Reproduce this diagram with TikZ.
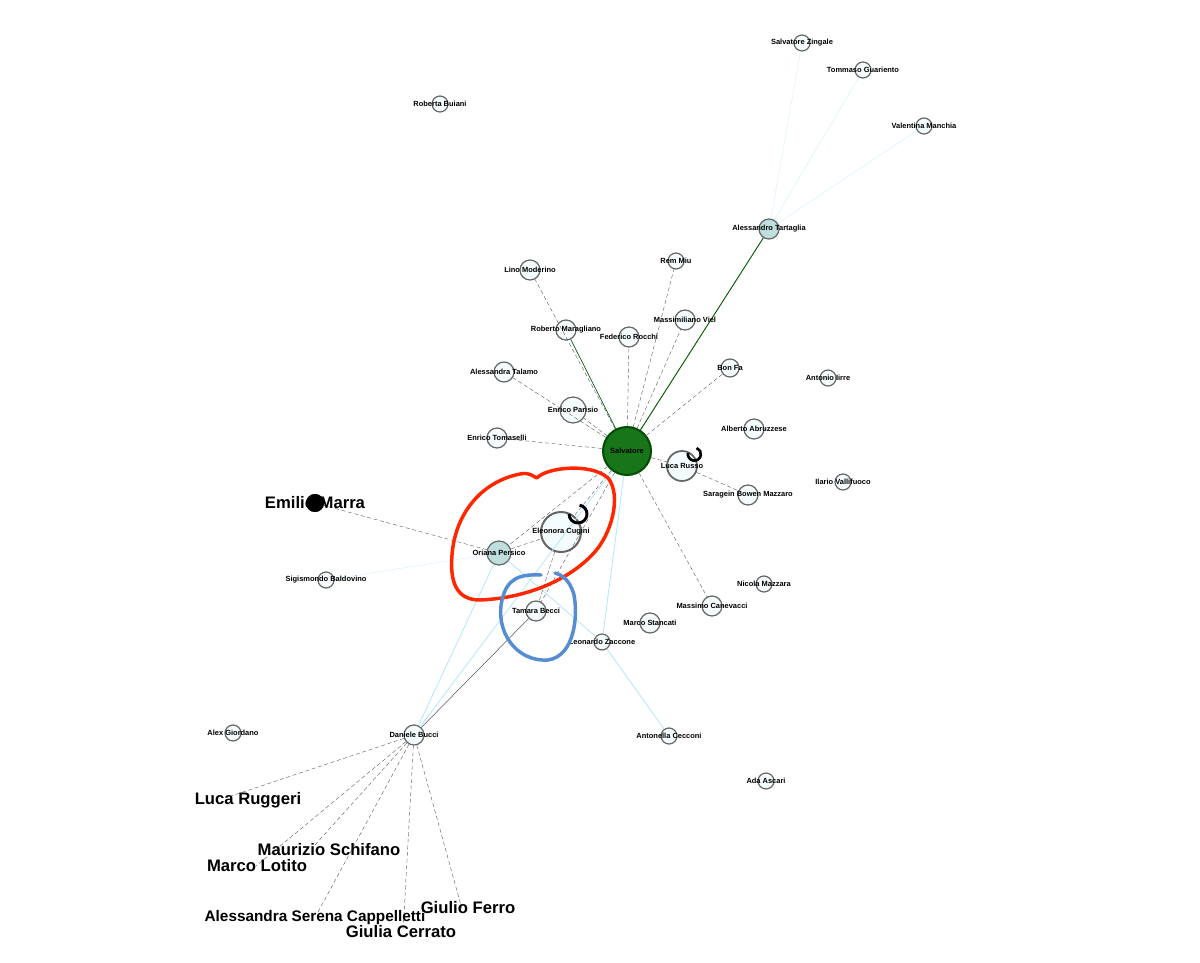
\documentclass[tikz,border=0pt]{standalone}
\usepackage{fontspec}
\setmainfont{Liberation Sans}
\begin{document}
\begin{tikzpicture}[x=0.75pt,y=-0.75pt,
  nd/.style={circle,draw=gray!80!black,line width=0.9pt,fill=cyan!4,inner sep=0pt,minimum size=#1*0.75pt},
  tl/.style={font=\bfseries\fontsize{5.6}{6}\selectfont},
  bl/.style={font=\bfseries\fontsize{12.5}{14}\selectfont},
  e/.style={densely dashed,gray!70!black,line width=0.3pt},
  ge/.style={green!35!black,line width=0.7pt},
  le/.style={cyan!30,line width=0.6pt}]
\useasboundingbox (0,0) rectangle (1200,963);
% nodes
\node[nd=48,fill=green!40!black!90,draw=black!70!green,line width=1.5pt] (sal) at (627,451) {};
\node[nd=30,line width=1.3pt] (russo) at (682,466) {};
\node[nd=40,line width=1.5pt] (cug) at (561,532) {};
\node[nd=24,fill=teal!25] (ori) at (499,553) {};
\node[nd=20] (tam) at (536,611) {};
\node[nd=20] (dan) at (414,735) {};
\node[circle,fill=black,minimum size=13.5pt,inner sep=0pt] (emi) at (315,503) {};
\node[nd=20,fill=teal!25] (tar) at (769,229) {};
\node[nd=16] (zin) at (802,43) {};
\node[nd=16] (gua) at (863,70) {};
\node[nd=16] (man) at (924,126) {};
\node[nd=16] (bui) at (440,104) {};
\node[nd=20] (lin) at (530,270) {};
\node[nd=16] (rem) at (676,261) {};
\node[nd=20] (vie) at (685,320) {};
\node[nd=20] (mar) at (566,330) {};
\node[nd=20] (roc) at (629,337) {};
\node[nd=18] (bon) at (730,368) {};
\node[nd=20] (tal) at (504,372) {};
\node[nd=16] (iir) at (828,378) {};
\node[nd=26] (par) at (573,410) {};
\node[nd=20] (abr) at (754,429) {};
\node[nd=20] (tom) at (497,438) {};
\node[nd=16] (val) at (843,482) {};
\node[nd=20] (sar) at (748,495) {};
\node[nd=16] (sig) at (326,580) {};
\node[nd=16] (niz) at (764,584) {};
\node[nd=20] (can) at (712,606) {};
\node[nd=20] (sta) at (650,623) {};
\node[nd=16] (zac) at (602,642) {};
\node[nd=16] (gio) at (233,733) {};
\node[nd=16] (cec) at (669,736) {};
\node[nd=16] (asc) at (766,781) {};
\coordinate (rug) at (228,797);
\coordinate (sch) at (314,846);
\coordinate (lot) at (256,866);
\coordinate (cap) at (318,912);
\coordinate (cer) at (403,932);
\coordinate (fer) at (462,909);
% edges
\draw[ge] (sal) -- (tar);
\draw[ge,line width=0.5pt] (sal) -- (mar);
\draw[cyan!15,line width=0.4pt] (tar) -- (zin) (tar) -- (gua) (tar) -- (man);
\foreach \n in {lin,rem,vie,roc,bon,tal,par,tom,russo,can,ori,cug,tam}{\draw[e] (sal) -- (\n);}
\draw[le] (sal) -- (dan);
\draw[le] (sal) -- (zac);
\draw[e] (russo) -- (sar);
\draw[e] (ori) -- (emi);
\draw[cyan!15] (ori) -- (sig);
\draw[e] (ori) -- (cug);
\draw[le] (ori) -- (dan);
\draw[le] (ori) -- (zac);
\draw[e] (cug) -- (tam);
\draw[gray!70!black,line width=0.4pt] (tam) -- (dan);
\draw[le] (zac) -- (cec);
\foreach \n in {rug,sch,lot,cap,cer,fer}{\draw[e] (dan) -- (\n);}
\draw[black,line width=2pt] (688,453) arc (190:-70:6.5);
\draw[black,line width=2.2pt] (569,514) arc (180:-80:9);
% labels
\node[tl] at (sal) {Salvatore};
\node[tl] at (russo) {Luca Russo};
\node[tl] at (cug) {Eleonora Cugini};
\node[tl] at (ori) {Oriana Persico};
\node[tl] at (tam) {Tamara Becci};
\node[tl] at (dan) {Daniele Bucci};
\node[tl] at (tar) {Alessandro Tartaglia};
\node[tl] at (zin) {Salvatore Zingale};
\node[tl] at (gua) {Tommaso Guariento};
\node[tl] at (man) {Valentina Manchia};
\node[tl] at (bui) {Roberta Buiani};
\node[tl] at (lin) {Lino Moderino};
\node[tl] at (rem) {Rem Miu};
\node[tl] at (vie) {Massimiliano Viel};
\node[tl] at (mar) {Roberto Maragliano};
\node[tl] at (629,337) {Federico Rocchi};
\node[tl] at (bon) {Bon Fa};
\node[tl] at (tal) {Alessandra Talamo};
\node[tl] at (iir) {Antonio Iirre};
\node[tl] at (par) {Enrico Parisio};
\node[tl] at (abr) {Alberto Abruzzese};
\node[tl] at (tom) {Enrico Tomaselli};
\node[tl] at (val) {Ilario Vallifuoco};
\node[tl] at (sar) {Saragein Bowen Mazzaro};
\node[tl] at (sig) {Sigismondo Baldovino};
\node[tl] at (niz) {Nicola Mazzara};
\node[tl] at (can) {Massimo Canevacci};
\node[tl] at (sta) {Marco Stancati};
\node[tl] at (zac) {Leonardo Zaccone};
\node[tl] at (gio) {Alex Giordano};
\node[tl] at (cec) {Antonella Cecconi};
\node[tl] at (asc) {Ada Ascari};
\node[bl] at (315,503) {Emilio Marra};
\node[bl] at (248,800) {Luca Ruggeri};
\node[bl] at (329,850) {Maurizio Schifano};
\node[bl] at (257,866) {Marco Lotito};
\node[bl,font=\bfseries\fontsize{11.5}{13}\selectfont] at (315,918) {Alessandra Serena Cappelletti};
\node[bl] at (401,932) {Giulia Cerrato};
\node[bl] at (468,908) {Giulio Ferro};
\node[circle,fill=black,minimum size=13.5pt,inner sep=0pt] at (315,503) {};
% hand-drawn loops
\draw[red!70!orange,line width=2.6pt,line cap=round,line join=round]
  (537,478) .. controls (545,468) and (590,462) .. (608,478)
  .. controls (622,495) and (612,535) .. (592,555)
  .. controls (570,578) and (530,598) .. (480,600)
  .. controls (455,600) and (450,580) .. (452,555)
  .. controls (455,515) and (480,482) .. (520,474)
  .. controls (530,472) and (532,476) .. (537,478);
\draw[cyan!50!blue!70,line width=2.6pt,line cap=round]
  (541,575) .. controls (520,574) and (507,578) .. (502,600)
  .. controls (495,630) and (515,662) .. (548,660)
  .. controls (575,656) and (578,615) .. (574,595)
  .. controls (570,580) and (562,575) .. (555,573);
\end{tikzpicture}
\end{document}
